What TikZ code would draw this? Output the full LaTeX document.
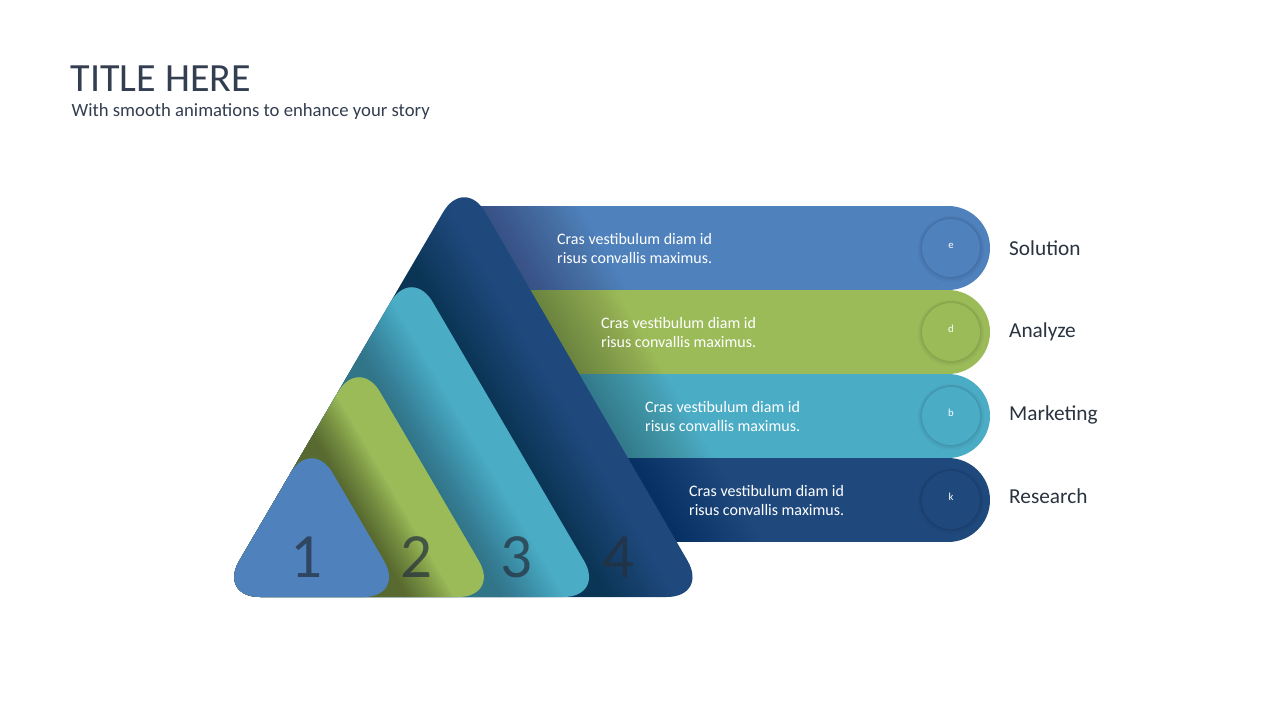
\documentclass[tikz,border=0pt]{standalone}
\usepackage{fontspec}
\setmainfont{Carlito}
\definecolor{cblue}{HTML}{4F81BD}
\definecolor{cgreen}{HTML}{9BBB59}
\definecolor{cteal}{HTML}{4BACC6}
\definecolor{cnavy}{HTML}{1F497D}
\definecolor{ctitle}{HTML}{333E50}
\definecolor{clabel}{HTML}{2A3340}
\definecolor{cnum}{HTML}{25303D}
\newcommand\mystripes[4]{%
  \foreach \k in {1,...,#2}{%
    \pgfmathsetmacro\xx{#1+\k*#3}%
    \fill[black,opacity=#4] ({\xx-261.5},150) -- ({\xx+13.5},620) -- (100,620) -- (100,150) -- cycle;
  }}
\begin{document}
\begin{tikzpicture}[x=1pt,y=-1pt,
  bandtext/.style={anchor=base west,inner sep=0pt,text=white,font=\fontsize{16}{19}\selectfont},
  lbl/.style={anchor=base west,inner sep=0pt,text=clabel,font=\fontsize{21.3}{25}\selectfont},
  circletext/.style={anchor=base,inner sep=0pt,text=white,font=\fontsize{10.7}{12}\selectfont},
  numtext/.style={anchor=base,inner sep=0pt,text=cnum,text opacity=0.72,font=\fontsize{63}{63}\selectfont},
  tri/.style={rounded corners=42pt}]
\useasboundingbox (0,0) rectangle (1280,720);
\fill[white] (0,0) rectangle (1280,720);

% title
\node[anchor=base west,inner sep=0pt,text=ctitle,font=\fontsize{40}{46}\selectfont] (title) at (70.5,91) {TITLE HERE};
\node[anchor=base west,inner sep=0pt,text=ctitle,font=\fontsize{18.7}{22}\selectfont] (subtitle) at (71.5,116) {With smooth animations to enhance your story};

% bands
\foreach \c/\yt/\n/\a/\w in {cblue/206/1/0.012/4, cgreen/290/2/0.011/3.5, cteal/374/3/0.010/3.5, cnavy/458/4/0.008/3.5}{
  \begin{scope}
    \clip (470,\yt) -- (948,\yt) arc[start angle=-90,end angle=90,radius=42] -- (470,\yt+84) -- cycle;
    \fill[\c] (470,\yt) rectangle (1000,\yt+84);
    \mystripes{711}{24}{\w}{\a}
  \end{scope}
}
% circles
\foreach \c/\yc/\t in {cblue/248/e, cgreen/332/d, cteal/416/b, cnavy/500/k}{
  \fill[black,opacity=0.03] (951,\yc+1) circle[radius=33];
  \fill[black,opacity=0.04] (951,\yc+0.5) circle[radius=31.5];
  \fill[black,opacity=0.05] (951,\yc) circle[radius=30.2];
  \fill[\c] (951,\yc) circle[radius=29];
}
\node[circletext] (ce) at (951,248.5) {e};
\node[circletext] (cd) at (951,332.5) {d};
\node[circletext] (cb) at (951,416.5) {b};
\node[circletext] (ck) at (951,500.5) {k};

% band texts
\node[bandtext] (t1a) at (557,244.3) {Cras vestibulum diam id};
\node[bandtext] (t1b) at (557,263.3) {risus convallis maximus.};
\node[bandtext] (t2a) at (601,328.3) {Cras vestibulum diam id};
\node[bandtext] (t2b) at (601,347.3) {risus convallis maximus.};
\node[bandtext] (t3a) at (645,412.3) {Cras vestibulum diam id};
\node[bandtext] (t3b) at (645,431.3) {risus convallis maximus.};
\node[bandtext] (t4a) at (689,496.3) {Cras vestibulum diam id};
\node[bandtext] (t4b) at (689,515.3) {risus convallis maximus.};

% labels
\node[lbl] (l1) at (1009,255) {Solution};
\node[lbl] (l2) at (1009,337.5) {Analyze};
\node[lbl] (l3) at (1009,420.5) {Marketing};
\node[lbl] (l4) at (1009,503) {Research};

% triangle 4
\begin{scope}
  \clip[tri] (218,597) -- (464.3,176) -- (708.6,597) -- cycle;
  \fill[cnavy] (200,150) rectangle (720,610);
  \mystripes{605.2}{20}{3.5}{0.011}
\end{scope}
% triangle 3
\begin{scope}
  \clip[tri] (218,597) -- (411.6,266) -- (605.2,597) -- cycle;
  \fill[cteal] (200,150) rectangle (720,610);
  \mystripes{500}{20}{3.2}{0.015}
\end{scope}
% triangle 2
\begin{scope}
  \clip[tri] (218,597) -- (359,356) -- (500,597) -- cycle;
  \fill[cgreen] (200,150) rectangle (720,610);
  \mystripes{405.2}{18}{2.7}{0.027}
\end{scope}
% triangle 1
\fill[cblue,tri] (218,597) -- (311.6,437) -- (405.2,597) -- cycle;

% numbers
\node[numtext] (n1) at (306.7,577) {1};
\node[numtext] (n2) at (416.7,577) {2};
\node[numtext] (n3) at (516.7,577) {3};
\node[numtext] (n4) at (618.3,577) {4};
\end{tikzpicture}
\end{document}
